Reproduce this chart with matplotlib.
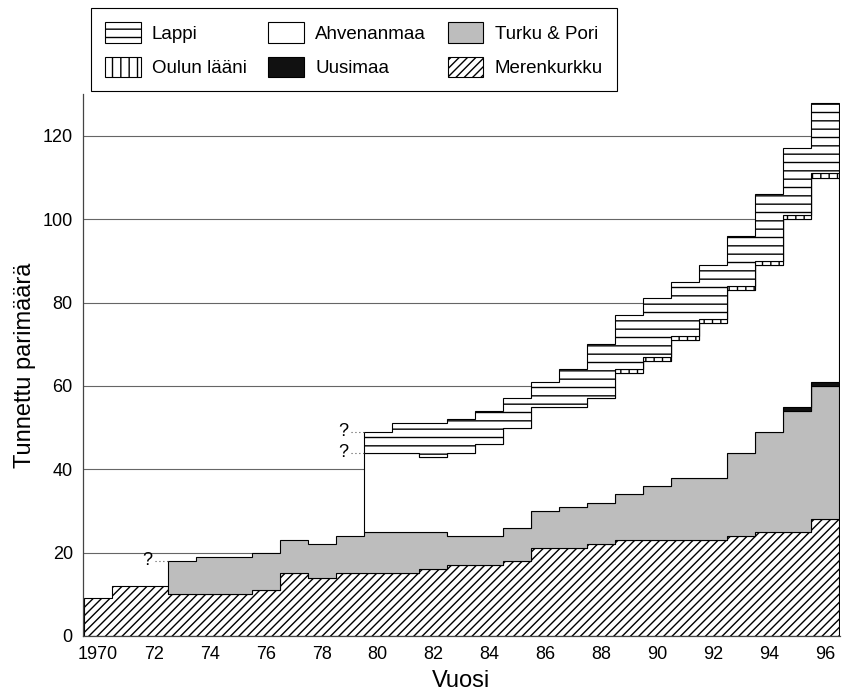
import numpy as np
import matplotlib
matplotlib.use('Agg')
import matplotlib.pyplot as plt
from matplotlib.patches import Patch

plt.rcParams['font.family'] = ['Liberation Sans', 'DejaVu Sans']
plt.rcParams['hatch.linewidth'] = 1.0

years = np.arange(1970, 1997)

# known pairs per region and year, stacked bottom -> top (0 = not shown)
merenkurkku = [9, 12, 12, 10, 10, 10, 11, 15, 14, 15,
               15, 15, 16, 17, 17, 18, 21, 21, 22, 23,
               23, 23, 23, 24, 25, 25, 28]
turku_pori = [0, 0, 0, 8, 9, 9, 9, 8, 8, 9,
              10, 10, 9, 7, 7, 8, 9, 10, 10, 11,
              13, 15, 15, 20, 24, 29, 32]
uusimaa = [0, 0, 0, 0, 0, 0, 0, 0, 0, 0,
           0, 0, 0, 0, 0, 0, 0, 0, 0, 0,
           0, 0, 0, 0, 0, 1, 1]
ahvenanmaa = [0, 0, 0, 0, 0, 0, 0, 0, 0, 0,
              19, 19, 18, 20, 22, 24, 25, 24, 25, 29,
              30, 33, 37, 39, 40, 45, 49]
oulun_laani = [0, 0, 0, 0, 0, 0, 0, 0, 0, 0,
               0, 0, 0, 0, 0, 0, 0, 0, 0, 1,
               1, 1, 1, 1, 1, 1, 1]
lappi = [0, 0, 0, 0, 0, 0, 0, 0, 0, 0,
         5, 7, 8, 8, 8, 7, 6, 9, 13, 13,
         14, 13, 13, 12, 16, 16, 17]

layers = [
    ('Merenkurkku', merenkurkku, 'white', '////'),
    ('Turku & Pori', turku_pori, '#bdbdbd', None),
    ('Uusimaa', uusimaa, '#111111', None),
    ('Ahvenanmaa', ahvenanmaa, 'white', None),
    ('Oulun lääni', oulun_laani, 'white', '||'),
    ('Lappi', lappi, 'white', '--'),
]

fig = plt.figure(figsize=(8.46, 6.93), dpi=100)
ax = fig.add_axes([0.0976, 0.0823, 0.8956, 0.7817])

edges = np.append(years - 0.5, years[-1] + 0.5)
base = np.zeros(len(years))
tops = {}
bottoms = {}
handles = {}
for name, vals, face, hatch in layers:
    vals = np.array(vals, dtype=float)
    top = base + vals
    i0 = np.nonzero(vals)[0][0]
    ax.stairs(top[i0:], edges[i0:], baseline=base[i0:], fill=True,
              facecolor=face, edgecolor='black', hatch=hatch,
              linewidth=0.8, zorder=2)
    tops[name] = top
    bottoms[name] = base.copy()
    handles[name] = Patch(facecolor=face, edgecolor='black', hatch=hatch, linewidth=0.8)
    base = top

# question marks for uncertain starting levels
def question(i, y):
    x = edges[i]
    ax.plot([x - 0.45, x], [y, y], color='#555555', lw=0.8, ls=(0, (1, 2.5)), zorder=3)
    ax.text(x - 0.55, y, '?', ha='right', va='center', fontsize=13)

i73 = list(years).index(1973)
i80 = list(years).index(1980)
question(i73, tops['Turku & Pori'][i73])
question(i80, tops['Lappi'][i80])
question(i80, bottoms['Lappi'][i80])

ax.set_xlim(1969.45, 1996.55)
ax.set_ylim(0, 130)
ax.set_yticks(np.arange(0, 121, 20))
ax.set_xticks(years[::2])
ax.set_xticklabels(['1970'] + [str(y)[2:] for y in years[2::2]])
ax.tick_params(length=0, labelsize=13, pad=7)

ax.set_axisbelow(True)
ax.yaxis.grid(True, color='#666666', linewidth=0.8)
for s in ['top', 'right']:
    ax.spines[s].set_visible(False)
for s in ['left', 'bottom']:
    ax.spines[s].set_color('#444444')
    ax.spines[s].set_linewidth(0.9)

ax.set_xlabel('Vuosi', fontsize=17, labelpad=5)
ax.set_ylabel('Tunnettu parimäärä', fontsize=17, labelpad=5)

order = ['Lappi', 'Oulun lääni', 'Ahvenanmaa', 'Uusimaa', 'Turku & Pori', 'Merenkurkku']
leg = fig.legend([handles[n] for n in order], order, ncol=3, loc='upper left',
                 bbox_to_anchor=(91 / 846, 1 - 8 / 693), borderaxespad=0,
                 fontsize=13.5, frameon=True, fancybox=False, framealpha=1,
                 edgecolor='black', handlelength=1.9, handleheight=1.3,
                 handletextpad=0.6, columnspacing=1.15, labelspacing=0.75,
                 borderpad=0.75)
leg.get_frame().set_linewidth(0.8)

plt.savefig('out.png', dpi=100)
